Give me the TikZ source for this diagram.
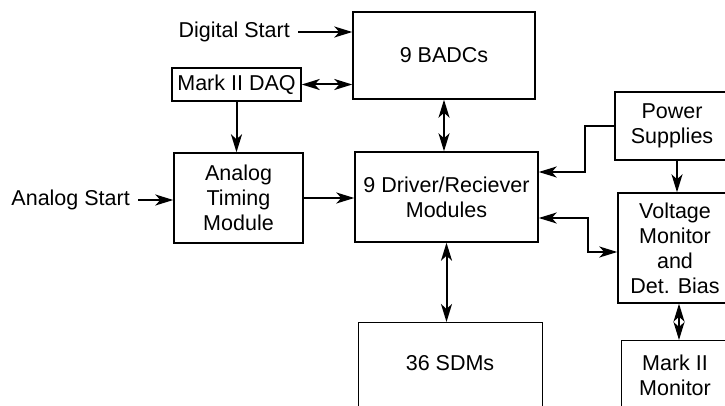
\documentclass[tikz,border=0pt]{standalone}
\usepackage{fontspec}
\setmainfont{Liberation Sans}
\usetikzlibrary{arrows.meta}
\newcommand{\labfont}{\fontsize{21.5}{25}\selectfont}
\tikzset{
  box/.style={draw, line width=1.4pt, inner sep=0pt, align=center, font=\labfont},
  txt/.style={inner sep=0pt, align=center, font=\labfont},
  inlab/.style={inner ysep=0pt, inner xsep=8pt, font=\labfont},
  tip/.tip={Stealth[length=18pt,width=11pt,inset=5pt]},
  arr/.style={line width=2pt, -tip},
  biarr/.style={line width=2pt, tip-tip}
}
\begin{document}
\begin{tikzpicture}[x=1pt,y=-1pt]
\useasboundingbox (0,0) rectangle (725,406);
\clip (0,0) rectangle (725,406);
\fill[white] (0,0) rectangle (725,406);
% boxes
\node[box, minimum width=182pt, minimum height=87pt] (badc) at (444,55.5) {9 BADCs};
\node[box, minimum width=129pt, minimum height=33pt] (daq) at (236.5,84.5) {Mark II DAQ};
\node[box, minimum width=129pt, minimum height=90pt] (atm) at (238.5,198) {Analog\\Timing\\Module};
\node[box, minimum width=183pt, minimum height=90pt] (drv) at (446.5,197) {9 Driver/Reciever\\Modules};
\node[box, anchor=north west, minimum width=184pt, minimum height=120pt] (sdm) at (358,322) {};
\node[txt] (sdmlab) at (450,363) {36 SDMs};
\node[box, minimum width=114pt, minimum height=68pt] (ps) at (672,126) {Power\\Supplies};
\node[box, minimum width=114pt, minimum height=110pt] (vm) at (675,248) {Voltage\\Monitor\\and\\Det. Bias};
\node[box, anchor=north west, minimum width=114pt, minimum height=100pt] (mm) at (621,340) {};
\node[txt] (mmlab) at (675,375) {Mark II\\Monitor};
% inputs
\node[inlab, anchor=east] (ds) at (298,32) {Digital Start};
\node[inlab, anchor=east] (as) at (138,200) {Analog Start};
% connectors
\draw[arr] (ds.east) -- (ds.east -| badc.west);
\draw[biarr] (daq.east) -- (daq.east -| badc.west);
\draw[arr] (daq.south) -- (daq.south |- atm.north);
\draw[arr] (as.east) -- (as.east -| atm.west);
\draw[arr] (atm.east) -- (atm.east -| drv.west);
\draw[biarr] (badc.south) -- (badc.south |- drv.north);
\draw[biarr] (drv.south) -- (drv.south |- sdm.north);
\coordinate (p1) at ([yshift=25pt]drv.east);
\draw[arr] (ps.west) -- ++(-29,0) |- (p1);
\coordinate (p2) at ([yshift=-21pt]drv.east);
\coordinate (p3) at ([yshift=-4pt]vm.west);
\draw[biarr] (p2) -- ++(49,0) |- (p3);
\draw[arr] ([xshift=5pt]ps.south) -- ([xshift=5pt]ps.south |- vm.north);
\draw[biarr] ([xshift=4pt]vm.south) -- ([xshift=4pt]vm.south |- mm.north);
\end{tikzpicture}
\end{document}
